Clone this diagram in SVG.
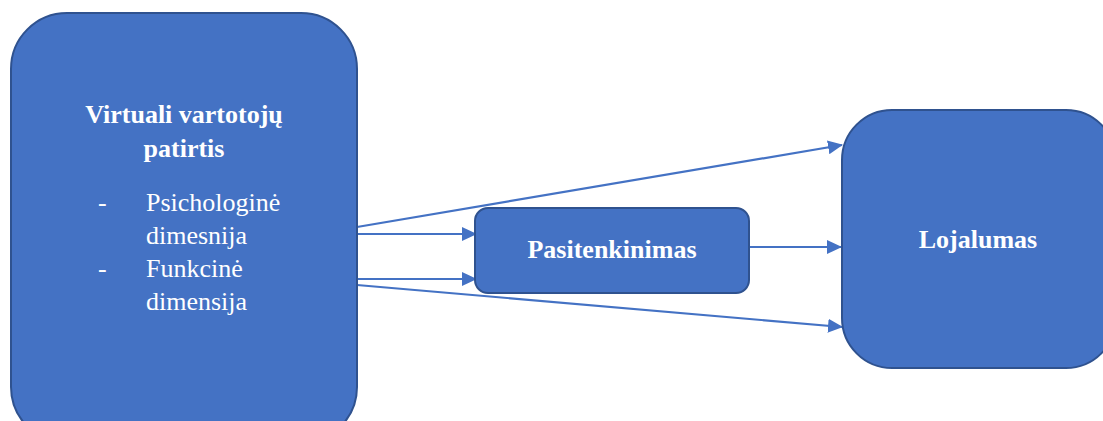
<svg xmlns="http://www.w3.org/2000/svg" width="1103" height="421" viewBox="0 0 1103 421">
  <style>
    .box { fill: #4472C4; stroke: #2F528F; stroke-width: 2; }
    .lbl { font-family: "Liberation Serif", "Times New Roman", serif; font-size: 26px; fill: #FFFFFF; }
    .b { font-weight: bold; }
    .conn { stroke: #4472C4; stroke-width: 2.2; fill: none; marker-end: url(#arr); }
  </style>
  <defs>
    <marker id="arr" markerUnits="userSpaceOnUse" markerWidth="15" markerHeight="14" refX="14" refY="7" orient="auto">
      <path d="M0,0 L15,7 L0,14 Z" fill="#4472C4"/>
    </marker>
  </defs>
  <rect width="1103" height="421" fill="#FFFFFF"/>

  <g id="connectors">
    <line class="conn" x1="357" y1="227" x2="842" y2="145"/>
    <line class="conn" x1="357" y1="234" x2="476" y2="234"/>
    <line class="conn" x1="357" y1="279" x2="476" y2="279"/>
    <line class="conn" x1="357" y1="285" x2="842" y2="327"/>
    <line class="conn" x1="749" y1="247" x2="841" y2="247"/>
  </g>

  <g id="node-patirtis">
    <rect class="box" x="11" y="13" width="346" height="430" rx="56" ry="56"/>
    <text class="lbl b" x="184" y="123" text-anchor="middle">Virtuali vartotojų</text>
    <text class="lbl b" x="184" y="157" text-anchor="middle">patirtis</text>
    <text class="lbl" x="98" y="211">-</text>
    <text class="lbl" x="146" y="211">Psichologinė</text>
    <text class="lbl" x="146" y="244">dimesnija</text>
    <text class="lbl" x="98" y="277">-</text>
    <text class="lbl" x="146" y="277">Funkcinė</text>
    <text class="lbl" x="146" y="310">dimensija</text>
  </g>

  <g id="node-pasitenkinimas">
    <rect class="box" x="475" y="208" width="274" height="85" rx="13" ry="13"/>
    <text class="lbl b" x="612" y="258" text-anchor="middle">Pasitenkinimas</text>
  </g>

  <g id="node-lojalumas">
    <rect class="box" x="842" y="110" width="274" height="258" rx="50" ry="50"/>
    <text class="lbl b" x="978" y="248" text-anchor="middle">Lojalumas</text>
  </g>
</svg>
